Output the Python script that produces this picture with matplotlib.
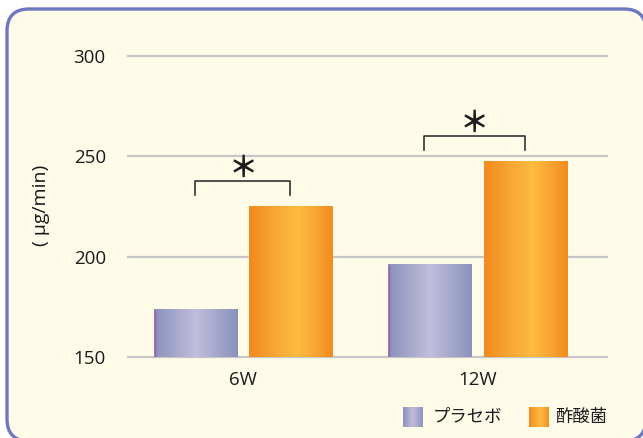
import matplotlib.pyplot as plt
import numpy as np
from matplotlib.colors import LinearSegmentedColormap
from matplotlib.patches import FancyBboxPatch

plt.rcParams['font.family'] = ['Open Sans', 'Noto Sans CJK JP', 'DejaVu Sans']

# data
groups = ['6W', '12W']
placebo = [173.5, 196]
acetic = [225, 247.5]
series_names = ['プラセボ', '酢酸菌']
yticks = [150, 200, 250, 300]
ylabel = '( μg/min)'

base = 150
width = 0.354
offset = 0.2026
text_color = '#1c1a1b'

cm_placebo = LinearSegmentedColormap.from_list(
    'placebo', [(0, '#8a92bb'), (0.5, '#c1bddc'), (1, '#8a92bc')])
cm_acetic = LinearSegmentedColormap.from_list(
    'acetic', [(0, '#f28a1f'), (0.3, '#f9a532'), (0.58, '#fdbc40'),
               (0.8, '#f9a532'), (1, '#f38b1f')])
grad = np.linspace(0, 1, 256).reshape(1, -1)

fig = plt.figure(figsize=(6.43, 4.38), dpi=100)
fig.patch.set_facecolor('white')

# rounded panel behind everything
panel = FancyBboxPatch((0.07, -0.03), 6.39, 4.32,
                       boxstyle='round,pad=0,rounding_size=0.22',
                       transform=fig.dpi_scale_trans,
                       facecolor='#fffbe9', edgecolor='#6f77c0', linewidth=2.4,
                       zorder=-10)
fig.patches.append(panel)

ax = fig.add_axes([128 / 643, (438 - 357) / 438, 479 / 643, 301 / 438])
ax.patch.set_visible(False)

x = np.arange(len(groups))
b1 = ax.bar(x - offset, np.array(placebo) - base, width, bottom=base,
            color='none', zorder=2)
b2 = ax.bar(x + offset, np.array(acetic) - base, width, bottom=base,
            color='none', zorder=2)

# gradient fills clipped to each bar
for bars, cmap in ((b1, cm_placebo), (b2, cm_acetic)):
    for r in bars:
        x0, w, y0, h = r.get_x(), r.get_width(), r.get_y(), r.get_height()
        ax.imshow(grad, cmap=cmap, extent=[x0, x0 + w, y0, y0 + h],
                  aspect='auto', zorder=2, interpolation='bicubic')
for r in b1:
    ax.plot([r.get_x() + 0.003] * 2, [r.get_y(), r.get_y() + r.get_height()],
            color='#a85aa8', lw=1.0, zorder=3, solid_capstyle='butt')

# significance brackets
for i in range(len(groups)):
    top = max(placebo[i], acetic[i]) + 12.5
    xl, xr = x[i] - offset, x[i] + offset
    if i == 1:
        xl -= 0.027
    ax.plot([xl, xl, xr, xr], [top - 7, top, top, top - 7],
            color='#333333', lw=1.2, zorder=3)
    ax.text((xl + xr) / 2, top + 6.8, '＊', ha='center', va='center',
            fontsize=21, fontweight='bold', family=['Noto Sans CJK JP'],
            color=text_color)

ax.set_xlim(-0.490, 1.552)
ax.set_ylim(150, 300)
ax.set_yticks(yticks)
ax.set_xticks(x, groups)
ax.grid(axis='y', color='#c6c6c6', lw=1.6, zorder=0)
for gl in ax.get_ygridlines():
    gl.set_clip_on(False)
ax.set_axisbelow(True)
for s in ax.spines.values():
    s.set_visible(False)
ax.tick_params(axis='y', length=0, pad=16, labelsize=13.5, labelcolor=text_color)
ax.tick_params(axis='x', length=0, pad=10, labelsize=13.5, labelcolor=text_color)

fig.text(41 / 643, (438 - 205) / 438, ylabel, rotation=90, ha='center',
         va='center', fontsize=14, color=text_color)

# legend
for (lx, tx), name, cmap in zip(((403, 433), (529, 555)), series_names,
                                 (cm_placebo, cm_acetic)):
    lax = fig.add_axes([lx / 643, (438 - 427) / 438, 20 / 643, 20 / 438])
    lax.imshow(grad, cmap=cmap, aspect='auto', interpolation='bicubic')
    lax.axis('off')
    fig.text(tx / 643, (438 - 417) / 438, name, ha='left', va='center',
             fontsize=12.5, family=['Noto Sans CJK JP'], color=text_color)

fig.savefig('out.png', dpi=100, facecolor=fig.get_facecolor())
